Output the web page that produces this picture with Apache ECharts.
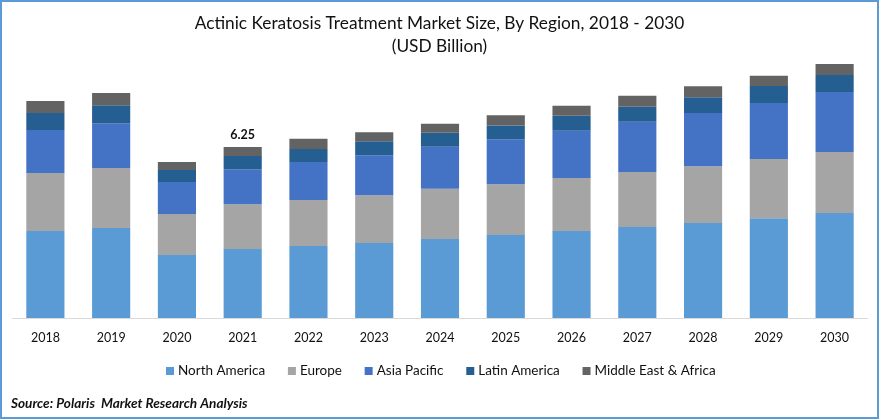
<!doctype html>
<html>
<head>
<meta charset="utf-8">
<script src="https://cdn.jsdelivr.net/npm/echarts@6/dist/echarts.min.js"></script>
<style>
html,body{margin:0;padding:0;background:#fff;}
#main{width:879px;height:419px;box-sizing:border-box;border:2.5px solid #5B9BD5;}
</style>
</head>
<body>
<div id="main"></div>
<script type="text/javascript">
var years = ['2018','2019','2020','2021','2022','2023','2024','2025','2026','2027','2028','2029','2030'];
var northAmerica = [3.18,3.29,2.30,2.52,2.63,2.74,2.89,3.03,3.18,3.33,3.47,3.65,3.84];
var europe = [2.12,2.19,1.50,1.64,1.68,1.75,1.83,1.86,1.94,2.01,2.08,2.16,2.23];
var asiaPacific = [1.57,1.64,1.17,1.28,1.39,1.46,1.54,1.64,1.72,1.83,1.94,2.05,2.19];
var latinAmerica = [0.62,0.66,0.44,0.48,0.48,0.51,0.51,0.51,0.55,0.55,0.58,0.62,0.62];
var middleEast = [0.44,0.44,0.29,0.33,0.37,0.33,0.33,0.37,0.37,0.40,0.40,0.37,0.40];
var labelYear = '2021';
var labelText = '6.25';

var font = 'Lato';
var textColor = '#111';

function makeSeries(name, values, color){
	return {
		name: name,
		type: 'bar',
		stack: 'total',
		barWidth: '58%',
		data: values,
		itemStyle: {color: color}
	};
}

var series = [
	makeSeries('North America', northAmerica, '#5B9BD5'),
	makeSeries('Europe', europe, '#A5A5A5'),
	makeSeries('Asia Pacific', asiaPacific, '#4472C4'),
	makeSeries('Latin America', latinAmerica, '#255E91'),
	makeSeries('Middle East & Africa', middleEast, '#636363')
];
// only one bar carries a total on top
series[4].data = middleEast.map(function(v, i){
	if(years[i] !== labelYear) return v;
	return {
		value: v,
		label: {
			show: true,
			position: 'top',
			distance: 6,
			formatter: labelText,
			fontFamily: font,
			fontWeight: 'bold',
			fontSize: 12.5,
			color: textColor
		}
	};
});

var myChart = echarts.init(document.getElementById('main'));
var option = {
	animation: false,
	textStyle: {fontFamily: font},
	title: [{
		text: 'Actinic Keratosis Treatment Market Size, By Region, 2018 - 2030\n(USD Billion)',
		left: 'center',
		top: 5,
		textStyle: {fontFamily: font, fontWeight: 'normal', fontSize: 17.3, lineHeight: 23, color: textColor}
	},{
		text: 'Source: Polaris  Market Research Analysis',
		left: 4,
		top: 390,
		textStyle: {fontFamily: font, fontWeight: 'bold', fontStyle: 'italic', fontSize: 13.6, color: textColor}
	}],
	legend: {
		left: 164,
		top: 362,
		icon: 'rect',
		itemWidth: 8,
		itemHeight: 8,
		itemGap: 22.75,
		padding: 0,
		textStyle: {fontFamily: font, fontSize: 13.5, color: textColor, padding: [0,0,0,-1]}
	},
	grid: {left: 10.5, right: 9.5, top: 42.4, height: 273.6},
	xAxis: {
		type: 'category',
		data: years,
		axisLine: {lineStyle: {color: '#D9D9D9', width: 1}},
		axisTick: {show: false},
		axisLabel: {margin: 13, fontFamily: font, fontSize: 12.5, color: textColor}
	},
	yAxis: {
		type: 'value',
		min: 0,
		max: 10,
		show: false
	},
	series: series
};
myChart.setOption(option);
</script>
</body>
</html>
